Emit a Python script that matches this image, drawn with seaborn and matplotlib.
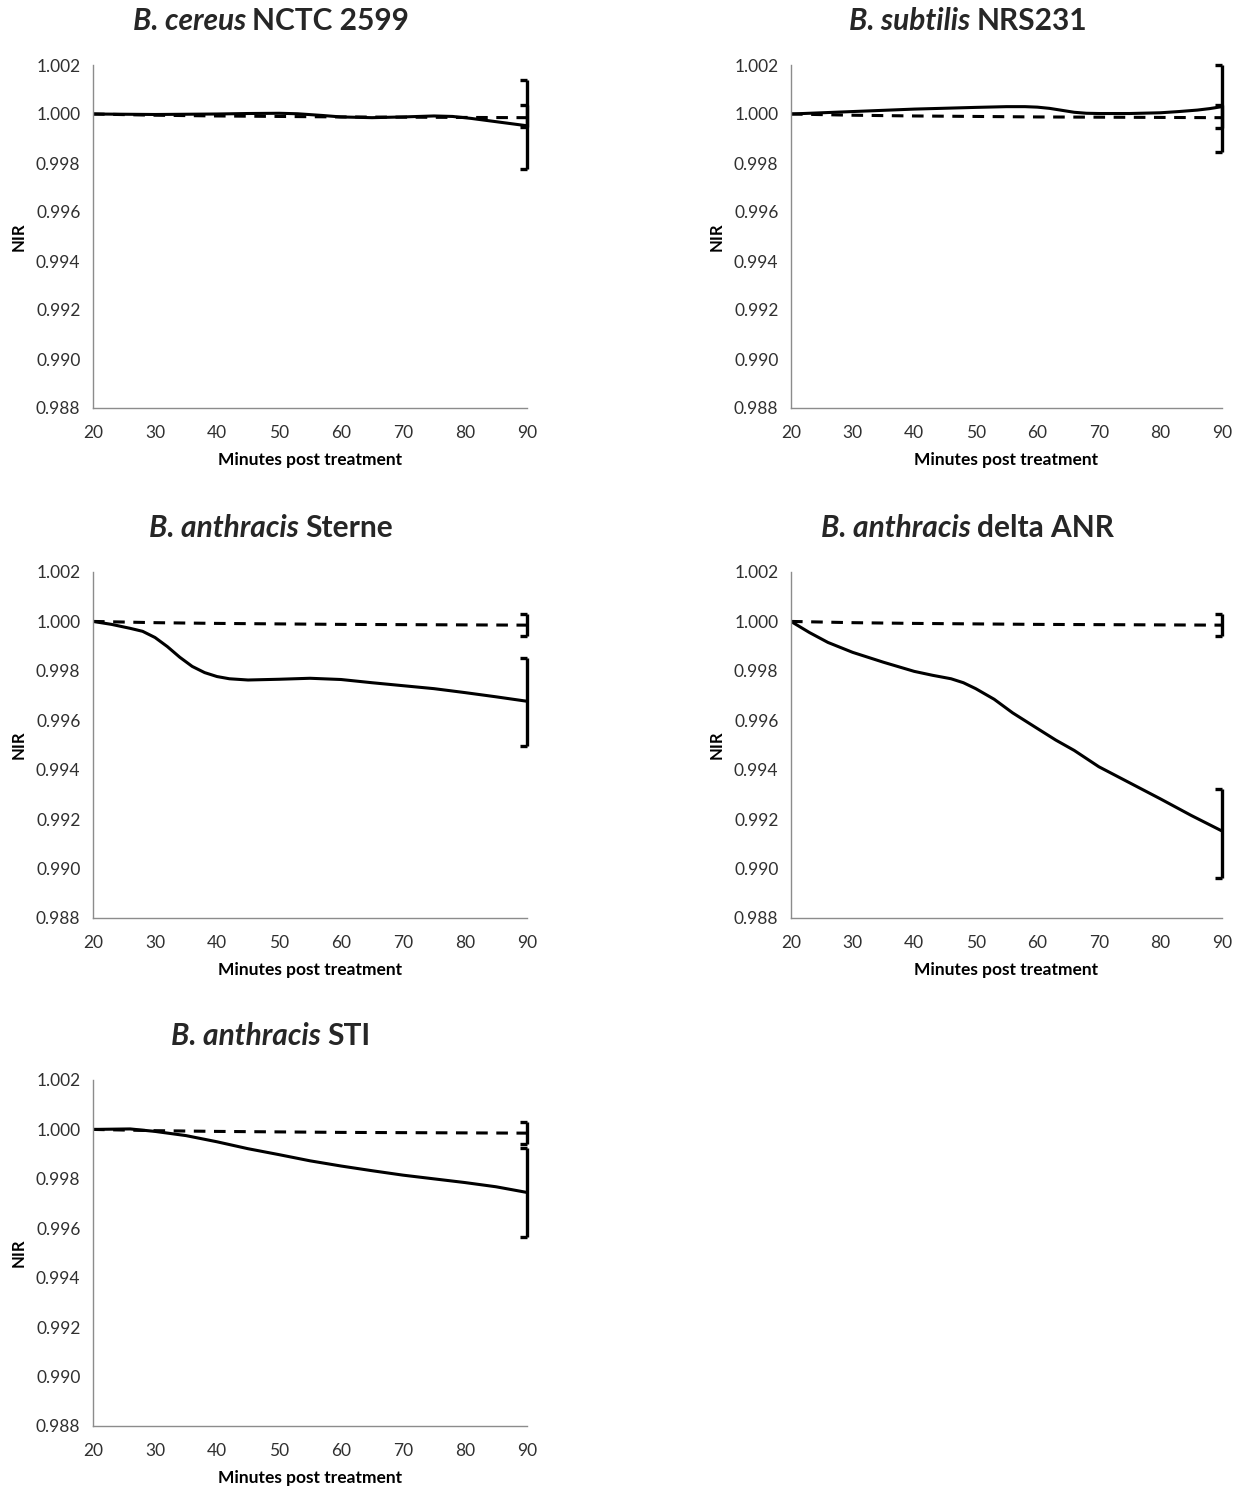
import numpy as np
import pandas as pd
import seaborn as sns
import matplotlib.pyplot as plt
from matplotlib.path import Path

# Values (NIR vs minutes post treatment)
minutes_ctrl = [20, 30, 40, 50, 60, 70, 80, 90]
nir_ctrl = [1.0000, 0.99995, 0.99992, 0.99990, 0.99988, 0.99987, 0.99986, 0.99985]
ctrl_err = 0.00046

cereus_min = [20, 30, 40, 45, 50, 53, 57, 60, 65, 70, 75, 78, 81, 84, 87, 90]
cereus_nir = [1.0000, 0.99998, 1.00000, 1.00002, 1.00003, 1.00001, 0.99994,
              0.99988, 0.99985, 0.99988, 0.99992, 0.99990, 0.99982, 0.99972,
              0.99962, 0.99952]

subtilis_min = [20, 30, 40, 50, 55, 58, 60, 62, 64, 66, 68, 70, 75, 80, 83,
                86, 88, 90]
subtilis_nir = [1.0000, 1.0001, 1.0002, 1.00027, 1.0003, 1.0003, 1.00028,
                1.00023, 1.00015, 1.00007, 1.00003, 1.00002, 1.00002, 1.00005,
                1.0001, 1.00016, 1.00022, 1.0003]

sterne_min = [20, 23, 26, 28, 30, 32, 34, 36, 38, 40, 42, 45, 50, 55, 60, 65,
              70, 75, 80, 85, 90]
sterne_nir = [1.0000, 0.99988, 0.99972, 0.9996, 0.99935, 0.99898, 0.99855,
              0.99818, 0.99793, 0.99777, 0.99768, 0.99763, 0.99766, 0.9977,
              0.99765, 0.99752, 0.9974, 0.99728, 0.99712, 0.99695, 0.99677]

anr_min = [20, 23, 26, 30, 35, 40, 43, 46, 48, 50, 53, 56, 60, 63, 66, 70, 75,
           80, 85, 90]
anr_nir = [1.0000, 0.99955, 0.99915, 0.99875, 0.99835, 0.99798, 0.99782,
           0.99768, 0.99752, 0.99728, 0.99685, 0.9963, 0.99567, 0.9952,
           0.99478, 0.99412, 0.99347, 0.99282, 0.99215, 0.99152]

sti_min = [20, 26, 30, 35, 40, 45, 50, 55, 60, 65, 70, 75, 80, 85, 90]
sti_nir = [1.0000, 1.00002, 0.99992, 0.99975, 0.9995, 0.99922, 0.99898,
           0.99873, 0.99852, 0.99833, 0.99815, 0.998, 0.99785, 0.99768, 0.99745]

# end-point error bars: (solid centre, solid half-range, dashed centre)
panels = [
    ("B. cereus", "NCTC 2599", cereus_min, cereus_nir, 0.99957, 0.0018, 0.99992),
    ("B. subtilis", "NRS231", subtilis_min, subtilis_nir, 1.00023, 0.00177, 0.9999),
    ("B. anthracis", "Sterne", sterne_min, sterne_nir, 0.99674, 0.0018, 0.99986),
    ("B. anthracis", "delta ANR", anr_min, anr_nir, 0.99143, 0.0018, 0.99986),
    ("B. anthracis", "STI", sti_min, sti_nir, 0.99743, 0.0018, 0.99986),
]

yticks = [0.988, 0.990, 0.992, 0.994, 0.996, 0.998, 1.000, 1.002]
xticks = [20, 30, 40, 50, 60, 70, 80, 90]

sns.set_style("white")
plt.rcParams["font.family"] = ["Lato", "DejaVu Sans"]

fig = plt.figure(figsize=(12.4, 14.86), dpi=100)
W, H = 1240, 1486
# axes boxes in pixels: left, top, right, bottom
boxes = [
    (93, 65, 527, 408),
    (791, 65, 1222, 408),
    (93, 572, 527, 918),
    (791, 572, 1222, 918),
    (93, 1080, 527, 1426),
]

spine_col = "#8c8c8c"
text_col = "#303030"
# half cap: only the left side of the bar, like an Excel "]"
left_cap = Path([[-1, 0], [0, 0]])

for (genus, strain, xs, ys, s_mid, s_err, d_mid), (l, t, r, b) in zip(panels, boxes):
    ax = fig.add_axes([l / W, 1 - b / H, (r - l) / W, (b - t) / H])
    ctrl = pd.DataFrame({"minutes": minutes_ctrl, "NIR": nir_ctrl})
    treated = pd.DataFrame({"minutes": xs, "NIR": ys})
    sns.lineplot(data=ctrl, x="minutes", y="NIR", ax=ax, color="black",
                 linewidth=2.2, linestyle=(0, (3.8, 2.8)))
    sns.lineplot(data=treated, x="minutes", y="NIR", ax=ax, color="black",
                 linewidth=2.2)

    for mid, err in [(d_mid, ctrl_err), (s_mid, s_err)]:
        cont = ax.errorbar([90], [mid], yerr=[err], fmt="none", ecolor="black",
                           elinewidth=2.4, capsize=5, capthick=2.4,
                           clip_on=False)
        for cap in cont.lines[1]:
            cap.set_marker(left_cap)
            cap.set_markersize(10)
            cap.set_markeredgewidth(2.4)

    ax.set_xlim(20, 90)
    ax.set_ylim(0.988, 1.002)
    ax.set_xticks(xticks)
    ax.set_yticks(yticks)
    ax.set_yticklabels([f"{v:.3f}" for v in yticks])
    ax.tick_params(axis="both", labelsize=12.5, colors=text_col,
                   color=spine_col, direction="out")
    ax.tick_params(axis="y", length=5, width=1, pad=4)
    ax.tick_params(axis="x", length=4, width=1, pad=8)
    for side in ["top", "right"]:
        ax.spines[side].set_visible(False)
    for side in ["left", "bottom"]:
        ax.spines[side].set_color(spine_col)
        ax.spines[side].set_linewidth(1)
    ax.set_xlabel("Minutes post treatment", fontsize=12.5, fontweight="bold",
                  labelpad=8.5, color="black")
    ax.set_ylabel("NIR", fontsize=12, fontweight="bold", labelpad=7,
                  color="black")

    # title: italic genus + upright strain, centred together
    t1 = ax.text(0, 0, genus + " ", fontsize=21.5, fontweight="bold",
                 style="italic", transform=ax.transAxes)
    t2 = ax.text(0, 0, strain, fontsize=21.5, fontweight="bold",
                 transform=ax.transAxes)
    fig.canvas.draw()
    w1 = t1.get_window_extent().width
    w2 = t2.get_window_extent().width
    cx = l + 0.41 * (r - l)
    x0 = cx - (w1 + w2) / 2
    ty = 1 - (t - 44) / H
    t1.set_transform(fig.transFigure)
    t2.set_transform(fig.transFigure)
    t1.set_position((x0 / W, ty))
    t2.set_position(((x0 + w1) / W, ty))
    t1.set_va("center")
    t2.set_va("center")

fig.savefig("out.png", dpi=100)
